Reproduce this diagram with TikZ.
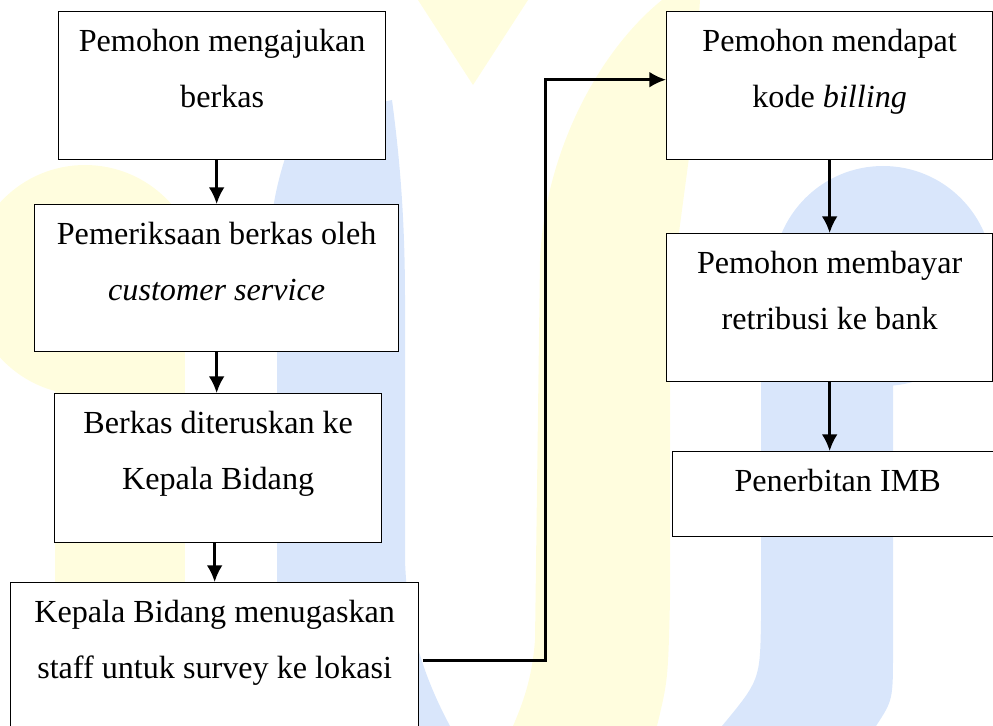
\documentclass[tikz,border=0pt]{standalone}
\usepackage{fontspec}
\setmainfont{Liberation Serif}
\usetikzlibrary{arrows.meta,positioning,calc}
\definecolor{WmYellow}{RGB}{255,253,222}
\definecolor{WmBlue}{RGB}{217,230,251}
\newlength{\pxu}
\setlength{\pxu}{0.02cm}
\newcommand{\boxtext}[3]{\parbox[c][#2\pxu][t]{#1\pxu}{\centering\fontsize{18.3pt}{31.9pt}\selectfont\rule{0pt}{22.8pt}#3}}

\begin{document}
\begin{tikzpicture}[x=0.02cm, y=-0.02cm]
  \tikzstyle{stepbox} = [rectangle, draw=black, fill=white, line width=0.75pt, inner sep=0pt, anchor=north west]
  \tikzstyle{line} = [draw=black, -{Latex[length=9.5pt,width=9pt]}, line width=1.4pt]

  \useasboundingbox (0,0) rectangle (993,726);
  \clip (0,0) rectangle (993,726);

  % watermark behind the chart
  \fill[WmYellow] (85,280) circle[radius=115];
  \fill[WmYellow] (55,300) rectangle (185,726);
  \fill[WmBlue] (277,726) -- (277,330) .. controls (262,260) and (268,190) .. (300,120)
    -- (392,100) .. controls (400,160) and (405,220) .. (405,300) -- (405,560)
    .. controls (407,620) and (420,670) .. (450,726) -- cycle;
  \fill[WmYellow] (418,0) -- (473,85) -- (528,0) -- cycle;
  \fill[WmYellow] (662,0) .. controls (600,50) and (545,150) .. (540,260) -- (535,640)
    .. controls (532,680) and (522,705) .. (513,726) -- (657,726) .. controls (668,680) .. (670,600)
    -- (670,300) -- (690,150) -- (700,0) -- cycle;
  \fill[WmBlue] (883,276) circle[radius=110];
  \fill[WmBlue] (761,290) -- (893,290) -- (893,650) .. controls (893,700) .. (876,726)
    -- (722,726) .. controls (760,680) .. (761,620) -- cycle;

  % left column
  \node [stepbox] (ajukan) at (58,11) {\boxtext{327}{148}{Pemohon mengajukan\\berkas}};
  \node [stepbox] (periksa) at (34,204) {\boxtext{364}{147}{Pemeriksaan berkas oleh\\\textit{customer service}}};
  \node [stepbox] (teruskan) at (54,393) {\boxtext{327}{149}{Berkas diteruskan ke\\Kepala Bidang}};
  \node [stepbox] (survey) at (10,582) {\boxtext{408}{170}{Kepala Bidang menugaskan\\staff untuk survey ke lokasi}};

  % right column
  \node [stepbox] (billing) at (666,11) {\boxtext{326}{148}{Pemohon mendapat\\kode \textit{billing}}};
  \node [stepbox] (bayar) at (666,233) {\boxtext{326}{148}{Pemohon membayar\\retribusi ke bank}};
  \node [stepbox] (imb) at (672,451) {\boxtext{330}{85}{Penerbitan IMB}};

  \path [line] (periksa.north |- ajukan.south) -- (periksa.north);
  \path [line] (periksa.south) -- (teruskan.north -| periksa.south);
  \path [line] (survey.north |- teruskan.south) -- (survey.north);
  \path [line, shorten <=2pt] ([yshift=4pt]survey.east) -- ++(126,0) |- ([yshift=3.4pt]billing.west);
  \path [line] (billing.south) -- (bayar.north);
  \path [line] (bayar.south) -- (imb.north -| bayar.south);
\end{tikzpicture}
\end{document}
